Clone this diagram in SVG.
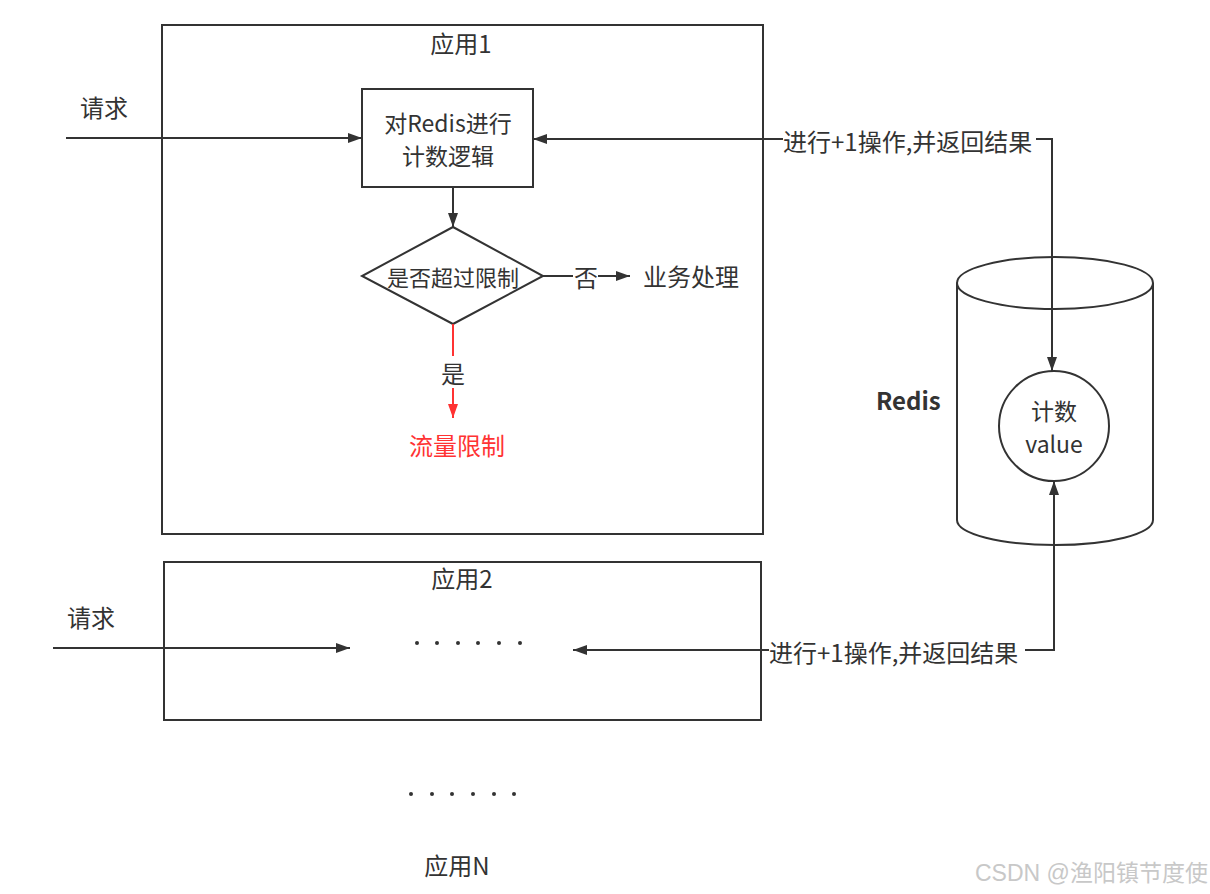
<svg xmlns="http://www.w3.org/2000/svg" width="1210" height="894" viewBox="0 0 1210 894">
<style>
.box{fill:none;stroke:#333;stroke-width:2}
.ln{fill:none;stroke:#333;stroke-width:2}
.red{fill:none;stroke:#ff3333;stroke-width:2}
text{font-family:"Microsoft YaHei","Noto Sans CJK SC","Noto Sans",sans-serif;font-size:24px;fill:#333;dominant-baseline:central}
.c{text-anchor:middle}
.m{font-size:23px}
.dot{fill:#333}
</style>
<defs>
<marker id="ah" viewBox="0 0 14 10" refX="14" refY="5" markerWidth="14" markerHeight="10" markerUnits="userSpaceOnUse" orient="auto"><path d="M0,0 L14,5 L0,10 Z" fill="#333"/></marker>
<marker id="ahr" viewBox="0 0 14 10" refX="14" refY="5" markerWidth="14" markerHeight="10" markerUnits="userSpaceOnUse" orient="auto"><path d="M0,0 L14,5 L0,10 Z" fill="#ff3333"/></marker>
</defs>
<rect width="1210" height="894" fill="#fff"/>
<g id="app1">
<rect class="box" x="162" y="25" width="601" height="509"/>
<text class="c" x="461" y="42">应用1</text>
</g>
<g id="app2">
<rect class="box" x="164" y="562" width="597" height="158"/>
<text class="c" x="462" y="577">应用2</text>
<g class="dot"><circle cx="417" cy="643" r="2"/><circle cx="437" cy="643" r="2"/><circle cx="458" cy="643" r="2"/><circle cx="478" cy="643" r="2"/><circle cx="499" cy="643" r="2"/><circle cx="520" cy="643" r="2"/></g>
</g>
<g id="appN">
<g class="dot"><circle cx="411" cy="794" r="2"/><circle cx="432" cy="794" r="2"/><circle cx="452" cy="794" r="2"/><circle cx="473" cy="794" r="2"/><circle cx="494" cy="794" r="2"/><circle cx="514" cy="794" r="2"/></g>
<text class="c" x="457" y="864">应用N</text>
</g>
<g id="count">
<rect class="box" x="362" y="89" width="171" height="98" fill="#fff"/>
<text class="c m" x="448" y="122">对Redis进行</text>
<text class="c m" x="448" y="155">计数逻辑</text>
</g>
<g id="check">
<polygon class="box" points="453,227 543,276 453,324 362,276"/>
<text class="c" x="453" y="276" style="font-size:22px">是否超过限制</text>
</g>
<g id="biz"><text x="643" y="275">业务处理</text></g>
<g id="limit"><text class="c" x="457" y="444" style="fill:#ff3333">流量限制</text></g>
<g id="redis">
<path class="box" d="M957,283 L957,520 A98,25 0 0 0 1153,520 L1153,283"/>
<ellipse class="box" cx="1055" cy="283" rx="98" ry="26"/>
<text x="876" y="399" style="font-weight:bold;font-size:24px">Redis</text>
</g>
<g id="value">
<circle class="box" cx="1054" cy="426" r="55"/>
<text class="c m" x="1054" y="410">计数</text>
<text class="c m" x="1054" y="443">value</text>
</g>
<g id="connectors">
<line class="ln" x1="66" y1="138" x2="362" y2="138" marker-end="url(#ah)"/>
<text x="80" y="106">请求</text>
<polyline class="ln" points="783,139 533,139" marker-end="url(#ah)"/>
<text x="783" y="140">进行+1操作,并返回结果</text>
<polyline class="ln" points="1036,139 1052,139 1052,371" marker-end="url(#ah)"/>
<line class="ln" x1="453" y1="187" x2="453" y2="227" marker-end="url(#ah)"/>
<line class="ln" x1="543" y1="276" x2="573" y2="276"/>
<text x="574" y="276">否</text>
<line class="ln" x1="598" y1="276" x2="630" y2="276" marker-end="url(#ah)"/>
<line class="red" x1="453" y1="324" x2="453" y2="356"/>
<text class="c" x="453" y="372">是</text>
<line class="red" x1="453" y1="388" x2="453" y2="418" marker-end="url(#ahr)"/>
<line class="ln" x1="53" y1="648" x2="350" y2="648" marker-end="url(#ah)"/>
<text x="67" y="616">请求</text>
<polyline class="ln" points="1025,650 1054,650 1054,481" marker-end="url(#ah)"/>
<text x="769" y="651">进行+1操作,并返回结果</text>
<line class="ln" x1="769" y1="650" x2="573" y2="650" marker-end="url(#ah)"/>
</g>
<text x="975" y="873" style="fill:#c8c8c8;font-size:23px;font-family:'Liberation Sans','Noto Sans CJK SC',sans-serif">CSDN @渔阳镇节度使</text>
</svg>
